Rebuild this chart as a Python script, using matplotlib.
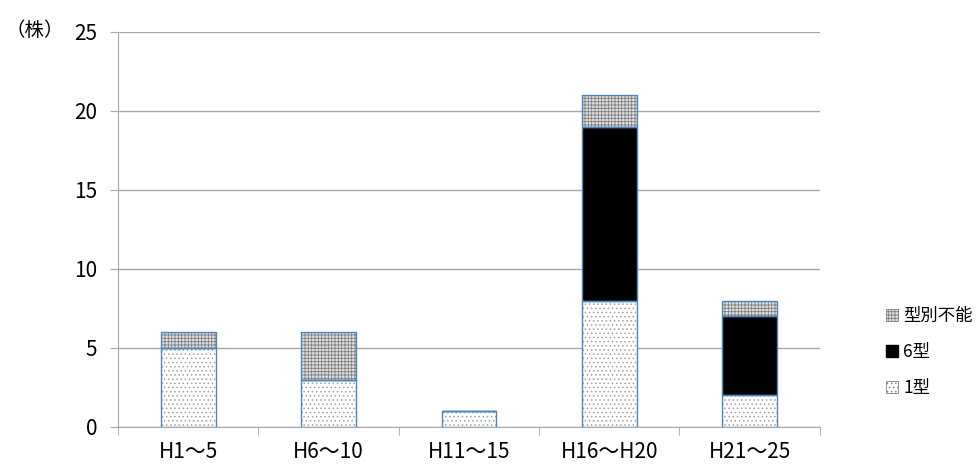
import matplotlib.pyplot as plt
import numpy as np

plt.rcParams['font.family'] = ['Noto Sans CJK JP', 'DejaVu Sans']
plt.rcParams['hatch.linewidth'] = 0.6

categories = ['H1～5', 'H6～10', 'H11～15', 'H16～H20', 'H21～25']
type1 = [5, 3, 1, 8, 2]
type6 = [0, 0, 0, 11, 5]
unknown = [1, 3, 0, 2, 1]

x = np.arange(len(categories))
w = 0.39
edge = '#4a86c0'
grid = '#a6a6a6'

fig = plt.figure(figsize=(9.76, 4.70), dpi=100)
ax = fig.add_axes([0.121, 0.0915, 0.719, 0.8405])

b6 = np.array(type1)
b7 = b6 + np.array(type6)

# fills with hatching (hatch drawn in gray), then blue outlines on top
ax.bar(x, type1, w, color='white', edgecolor='#a0a0a0', hatch='....', linewidth=0, zorder=2)
ax.bar(x, type6, w, bottom=b6, color='black', edgecolor='black', linewidth=0, zorder=2)
ax.bar(x, unknown, w, bottom=b7, color='#e0e0e0', edgecolor='#808080', hatch='+++++', linewidth=0, zorder=2)
for vals, bot in [(type1, 0), (type6, b6), (unknown, b7)]:
    ax.bar(x, vals, w, bottom=bot, fill=False, edgecolor=edge, linewidth=1.0, zorder=3)

# legend handles
h1 = plt.Rectangle((0, 0), 1, 1, facecolor='white', edgecolor='#808080', hatch='....', linewidth=0.6)
h6 = plt.Rectangle((0, 0), 1, 1, facecolor='black', edgecolor='black')
hu = plt.Rectangle((0, 0), 1, 1, facecolor='#e0e0e0', edgecolor='#808080', hatch='+++++', linewidth=0.6)
fig.legend([hu, h6, h1], ['型別不能', '6型', '1型'], loc='center left',
           bbox_to_anchor=(886 / 976, 1 - 352 / 470), frameon=False, fontsize=12.5,
           handlelength=0.7, handleheight=0.7, handletextpad=0.3, labelspacing=1.05,
           borderaxespad=0, borderpad=0)

ax.set_ylim(0, 25)
ax.set_xlim(-0.5, len(categories) - 0.5)
ax.set_yticks(range(0, 26, 5))
ax.tick_params(axis='y', labelsize=15, length=6, color=grid, pad=9)
ax.yaxis.grid(True, color=grid, linewidth=1)
ax.set_axisbelow(True)

ax.set_xticks(x)
ax.set_xticklabels(categories, fontsize=15)
ax.tick_params(axis='x', length=0, pad=10)
ax.set_xticks(np.arange(-0.5, len(categories)), minor=True)
ax.tick_params(axis='x', which='minor', length=6, color=grid)

for s in ['top', 'right']:
    ax.spines[s].set_visible(False)
for s in ['left', 'bottom']:
    ax.spines[s].set_color(grid)

fig.text(0.006, 1 - 31 / 470, '（株）', fontsize=14, va='center')

fig.savefig('out.png', dpi=100)
